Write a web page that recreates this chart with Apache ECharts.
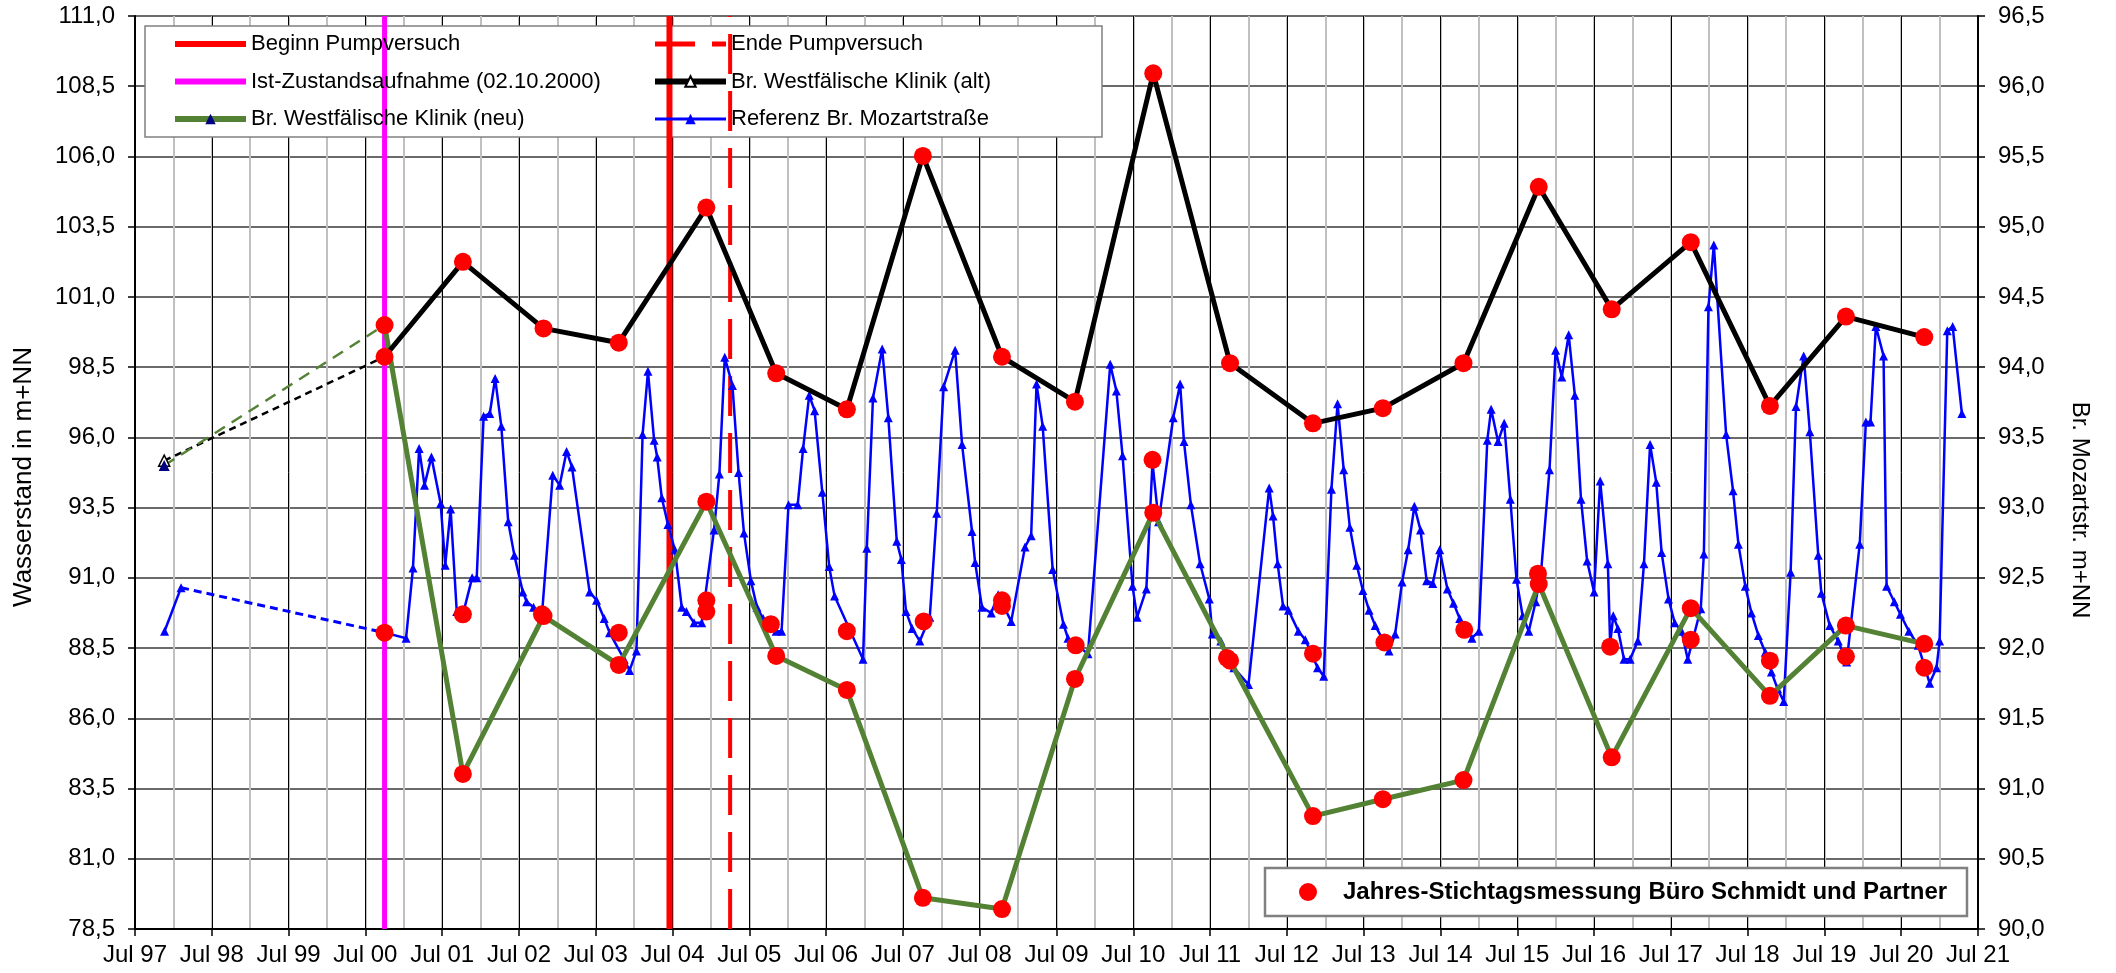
<!DOCTYPE html>
<html>
<head>
<meta charset="utf-8">
<title>Wasserstand Br. Westfälische Klinik / Br. Mozartstraße</title>
<script src="https://cdn.jsdelivr.net/npm/echarts@6/dist/echarts.min.js"></script>
<style>
    html, body { margin: 0; padding: 0; background: #fff; }
    #chart { width: 2116px; height: 973px; }
</style>
</head>
<body>
<div id="chart"></div>
<script>
// Zeit als Dezimaljahr (Jul 97 = 1997.5)
var xStart = 1997.5, xEnd = 2021.5;
var leftMin = 78.5, leftMax = 111.0, leftStep = 2.5;
var rightMin = 90.0, rightMax = 96.5, rightStep = 0.5;

// Ereignisse
var istZustand = 2000.75;   // 02.10.2000
var beginnPump = 2004.46;
var endePump = 2005.25;

// Brunnen Westfälische Klinik, Stichtage
var startT = 1997.88;
var altStart = 95.17;
var neuStart = 95.0;
var stichtagT = [2000.75, 2001.77, 2002.82, 2003.80, 2004.94, 2005.85, 2006.77, 2007.76, 2008.79, 2009.74,
                 2010.76, 2011.76, 2012.84, 2013.75, 2014.80, 2015.78, 2016.73, 2017.76, 2018.79, 2019.78, 2020.80];
var altV = [98.87, 102.25, 99.88, 99.37, 104.18, 98.28, 97.00, 106.02, 98.87, 97.27,
            108.96, 98.64, 96.50, 97.04, 98.64, 104.92, 100.56, 102.95, 97.12, 100.30, 99.57];
var neuV = [100.00, 84.02, 89.64, 87.90, 93.71, 88.22, 87.01, 79.61, 79.21, 87.40,
            93.32, 88.05, 82.52, 83.12, 83.80, 90.78, 84.61, 89.92, 86.80, 89.30, 88.65];

// Referenz Br. Mozartstrasse (rechte Achse)
var mozartPreT = [1997.885, 1998.10];
var mozartPreV = [92.12, 92.43];
var mozartT = [
    2000.75,
    2001.03, 2001.12, 2001.20, 2001.27, 2001.36, 2001.48, 2001.54, 2001.61, 2001.69, 2001.77, 2001.89, 2001.95,
    2002.04, 2002.12, 2002.19, 2002.27, 2002.36, 2002.44, 2002.55, 2002.60, 2002.69, 2002.80, 2002.94,
    2003.03, 2003.12, 2003.19, 2003.42, 2003.51, 2003.61, 2003.68, 2003.87, 2003.94,
    2004.03, 2004.11, 2004.18, 2004.26, 2004.30, 2004.36, 2004.44, 2004.53, 2004.62, 2004.68, 2004.78, 2004.88,
    2005.04, 2005.11, 2005.18, 2005.28, 2005.36, 2005.43, 2005.52, 2005.60, 2005.68, 2005.85, 2005.92,
    2006.01, 2006.13, 2006.20, 2006.28, 2006.35, 2006.45, 2006.54, 2006.61, 2006.98,
    2007.03, 2007.11, 2007.23, 2007.31, 2007.42, 2007.48, 2007.54, 2007.62, 2007.72, 2007.85, 2007.94,
    2008.03, 2008.18, 2008.27, 2008.40, 2008.44, 2008.53, 2008.65, 2008.74, 2008.91,
    2009.09, 2009.17, 2009.24, 2009.32, 2009.45, 2009.59, 2009.65, 2009.91,
    2010.20, 2010.28, 2010.36, 2010.49, 2010.55, 2010.67, 2010.75, 2010.83,
    2011.02, 2011.11, 2011.16, 2011.25, 2011.37, 2011.49, 2011.53, 2011.64, 2011.81,
    2012.00, 2012.27, 2012.32, 2012.38, 2012.45, 2012.52, 2012.65, 2012.74, 2012.90, 2012.98,
    2013.08, 2013.16, 2013.24, 2013.32, 2013.41, 2013.49, 2013.57, 2013.65, 2013.83, 2013.91,
    2014.00, 2014.08, 2014.16, 2014.24, 2014.32, 2014.40, 2014.49, 2014.59, 2014.67, 2014.75, 2014.91,
    2015.00, 2015.11, 2015.16, 2015.25, 2015.33, 2015.41, 2015.49, 2015.57, 2015.65, 2015.74, 2015.81, 2015.92,
    2016.00, 2016.08, 2016.17, 2016.25, 2016.33, 2016.41, 2016.50, 2016.58, 2016.68, 2016.71, 2016.75, 2016.81, 2016.89, 2016.97,
    2017.07, 2017.15, 2017.23, 2017.31, 2017.38, 2017.47, 2017.55, 2017.64, 2017.72, 2017.89, 2017.93, 2017.99,
    2018.06, 2018.22, 2018.31, 2018.38, 2018.47, 2018.55, 2018.64, 2018.73, 2018.81, 2018.89, 2018.97,
    2019.06, 2019.13, 2019.23, 2019.31, 2019.42, 2019.46, 2019.57, 2019.68, 2019.79, 2019.96,
    2020.04, 2020.10, 2020.17, 2020.27, 2020.31, 2020.41, 2020.49, 2020.60, 2020.72, 2020.87, 2020.96,
    2021.00, 2021.10, 2021.17, 2021.29
];
var mozartV = [
    92.11,
    92.07, 92.57, 93.42, 93.16, 93.36, 93.03, 92.59, 92.99, 92.26, 92.24, 92.50, 92.50,
    93.65, 93.67, 93.92, 93.58, 92.90, 92.66, 92.40, 92.33, 92.29, 92.24, 93.23,
    93.16, 93.40, 93.29, 92.40, 92.34, 92.21, 92.11, 91.92, 91.84,
    91.98, 93.52, 93.97, 93.48, 93.36, 93.07, 92.88, 92.70, 92.29, 92.26, 92.18, 92.18,
    92.84, 93.24, 94.07, 93.87, 93.25, 92.82, 92.48, 92.29, 92.21, 92.12, 92.12,
    93.02, 93.02, 93.42, 93.80, 93.69, 93.11, 92.58, 92.37, 91.92,
    92.71, 93.78, 94.13, 93.64, 92.76, 92.63, 92.26, 92.14, 92.05, 92.22, 92.96,
    93.86, 94.12, 93.45, 92.83, 92.61, 92.29, 92.25, 92.38, 92.19,
    92.72, 92.80, 93.88, 93.58, 92.56, 92.17, 92.07, 91.96,
    94.02, 93.83, 93.37, 92.44, 92.22, 92.42, 93.32, 92.90,
    93.64, 93.88, 93.47, 93.02, 92.60, 92.35, 92.10, 92.05, 91.86,
    91.74, 93.14, 92.94, 92.60, 92.30, 92.27, 92.12, 92.06, 91.86, 91.80,
    93.13, 93.74, 93.27, 92.86, 92.59, 92.41, 92.27, 92.16, 91.98, 92.10,
    92.47, 92.70, 93.01, 92.84, 92.48, 92.46, 92.70, 92.42, 92.32, 92.21, 92.07,
    92.12, 93.48, 93.70, 93.47, 93.60, 93.06, 92.49, 92.23, 92.12, 92.33, 92.54, 93.27,
    94.12, 93.93, 94.23, 93.80, 93.06, 92.62, 92.40, 93.19, 92.60, 92.03, 92.23, 92.14, 91.92, 91.92,
    92.05, 92.60, 93.45, 93.18, 92.68, 92.35, 92.18, 92.12, 91.92, 92.28, 92.67, 94.43,
    94.87, 93.52, 93.12, 92.74, 92.44, 92.25, 92.09, 91.97, 91.83, 91.71, 91.62,
    92.54, 93.72, 94.08, 93.54, 92.66, 92.39, 92.16, 92.05, 91.90, 92.74,
    93.61, 93.61, 94.29, 94.08, 92.44, 92.33, 92.24, 92.12, 92.02, 91.75, 91.86,
    92.05, 94.26, 94.29, 93.67
];

// Jahres-Stichtagsmessung an der Mozartstrasse (rechte Achse)
var mozartStichT = [2000.75, 2001.77, 2002.80, 2003.80, 2004.94, 2004.94, 2005.78, 2006.77, 2007.77, 2008.79, 2008.79, 2009.75,
                    2010.75, 2011.72, 2012.84, 2013.77, 2014.81, 2015.77, 2016.71, 2017.76, 2018.79, 2019.78, 2020.80];
var mozartStichV = [92.11, 92.24, 92.24, 92.11, 92.34, 92.26, 92.17, 92.12, 92.19, 92.34, 92.30, 92.02,
                    93.34, 91.93, 91.96, 92.04, 92.13, 92.53, 92.01, 92.06, 91.91, 91.94, 91.86];

var FONT = 'Liberation Sans, Arial, sans-serif';
var NAME_BEGINN = 'Beginn Pumpversuch';
var NAME_ENDE = 'Ende Pumpversuch';
var NAME_IST = 'Ist-Zustandsaufnahme (02.10.2000)';
var NAME_ALT = 'Br. Westfälische Klinik (alt)';
var NAME_NEU = 'Br. Westfälische Klinik (neu)';
var NAME_MOZ = 'Referenz Br. Mozartstraße';
var NAME_STICH = 'Jahres-Stichtagsmessung Büro Schmidt und Partner';

function pairs(t, v){
    var out = [];
    for(var i = 0 ; i < t.length ; i ++){
        out.push([t[i], v[i]]);
    }
    return out;
}

function deNum(v){
    return v.toFixed(1).replace('.', ',');
}

function vLine(name, t, style){
    return {
        name: name,
        type: 'line',
        xAxisIndex: 1,
        yAxisIndex: 0,
        symbol: 'none',
        z: 3,
        lineStyle: style,
        itemStyle: {color: style.color},
        data: [[t, leftMin], [t, leftMax]]
    };
}

function buildChart(){
    var oDom = document.getElementById('chart');
    var chart = echarts.init(oDom, null, {renderer: 'canvas'});

    var legendText = {fontSize: 22, color: '#000', fontFamily: FONT, lineHeight: 26};
    var noSymbol = {opacity: 0};

    var option = {
        animation: false,
        backgroundColor: '#fff',
        textStyle: {fontFamily: FONT},
        grid: {left: 135, right: 138, top: 16, bottom: 44},
        legend: [
            {
                data: [
                    {name: NAME_BEGINN, lineStyle: {width: 6}, itemStyle: noSymbol},
                    {name: NAME_IST, lineStyle: {width: 6}, itemStyle: noSymbol},
                    {name: NAME_NEU, lineStyle: {width: 6}}
                ],
                orient: 'vertical',
                left: 167, top: 26,
                itemWidth: 71, itemHeight: 13, itemGap: 11.5,
                selectedMode: false,
                textStyle: legendText
            },
            {
                data: [
                    {name: NAME_ENDE, lineStyle: {width: 5}, itemStyle: noSymbol},
                    {name: NAME_ALT, lineStyle: {width: 6}},
                    {name: NAME_MOZ, lineStyle: {width: 3}}
                ],
                orient: 'vertical',
                left: 647, top: 26,
                itemWidth: 71, itemHeight: 13, itemGap: 11.5,
                selectedMode: false,
                textStyle: legendText
            },
            {
                data: [NAME_STICH],
                left: 1294, top: 873,
                itemWidth: 60, itemHeight: 18,
                selectedMode: false,
                textStyle: {fontSize: 24, fontWeight: 'bold', color: '#000', fontFamily: FONT, lineHeight: 28}
            }
        ],
        graphic: [
            {type: 'rect', z: 1, shape: {x: 145, y: 26, width: 957, height: 111},
             style: {fill: '#fff', stroke: '#808080', lineWidth: 1.5}},
            {type: 'rect', z: 1, shape: {x: 1265, y: 868, width: 702, height: 48},
             style: {fill: '#fff', stroke: '#808080', lineWidth: 2.5}},
            {type: 'text', x: 24, y: 477, rotation: Math.PI / 2, z: 5,
             style: {text: 'Wasserstand in m+NN', fontSize: 26, fontFamily: FONT, fill: '#000',
                     align: 'center', verticalAlign: 'middle'}},
            {type: 'text', x: 2080, y: 510, rotation: -Math.PI / 2, z: 5,
             style: {text: 'Br. Mozartstr. m+NN', fontSize: 24, fontFamily: FONT, fill: '#000',
                     align: 'center', verticalAlign: 'middle'}}
        ],
        xAxis: [
            {
                // helle Hilfslinien im Halbjahrestakt
                type: 'value', min: xStart, max: xEnd, interval: 0.5,
                position: 'bottom',
                axisLine: {show: false}, axisTick: {show: false}, axisLabel: {show: false},
                splitLine: {show: true, lineStyle: {color: '#c0c0c0', width: 2}}
            },
            {
                type: 'value', min: xStart, max: xEnd, interval: 1,
                position: 'bottom',
                axisLine: {show: true, lineStyle: {color: '#000', width: 2}},
                axisTick: {show: true, length: 7, lineStyle: {color: '#000', width: 1.5}},
                axisLabel: {
                    fontSize: 24, color: '#000', fontFamily: FONT, margin: 14,
                    formatter: function(v){
                        var y = Math.floor(v + 1e-6);
                        return 'Jul ' + String(y % 100).padStart(2, '0');
                    }
                },
                splitLine: {show: true, lineStyle: {color: '#000', width: 1}}
            }
        ],
        yAxis: [
            {
                type: 'value', min: leftMin, max: leftMax, interval: leftStep,
                position: 'left',
                axisLine: {show: true, lineStyle: {color: '#000', width: 2}},
                axisTick: {show: true, length: 7, lineStyle: {color: '#000', width: 1.5}},
                axisLabel: {fontSize: 24, color: '#000', fontFamily: FONT, margin: 20, formatter: deNum},
                splitLine: {show: true, lineStyle: {color: '#6a6a6a', width: 2}}
            },
            {
                type: 'value', min: rightMin, max: rightMax, interval: rightStep,
                position: 'right',
                axisLine: {show: true, lineStyle: {color: '#000', width: 2}},
                axisTick: {show: true, length: 7, lineStyle: {color: '#000', width: 1.5}},
                axisLabel: {fontSize: 24, color: '#000', fontFamily: FONT, margin: 20, formatter: deNum},
                splitLine: {show: false}
            }
        ],
        series: [
            vLine(NAME_IST, istZustand, {color: '#ff00ff', width: 5}),
            vLine(NAME_BEGINN, beginnPump, {color: '#ff0000', width: 6}),
            vLine(NAME_ENDE, endePump, {color: '#ff0000', width: 4, type: [40, 17]}),
            {
                name: 'alt-Anbindung', type: 'line', xAxisIndex: 1, yAxisIndex: 0, z: 4,
                symbol: 'triangle', symbolSize: 11,
                itemStyle: {color: '#fff', borderColor: '#000', borderWidth: 1.5},
                lineStyle: {color: '#000', width: 2.5, type: [7, 5]},
                data: [{value: [startT, altStart]}, {value: [stichtagT[0], altV[0]], symbol: 'none'}]
            },
            {
                name: 'neu-Anbindung', type: 'line', xAxisIndex: 1, yAxisIndex: 0, z: 4,
                symbol: 'triangle', symbolSize: 11,
                itemStyle: {color: '#000080'},
                lineStyle: {color: '#548235', width: 2.5, type: [12, 8]},
                data: [{value: [startT, neuStart]}, {value: [stichtagT[0], neuV[0]], symbol: 'none'}]
            },
            {
                name: 'mozart-Anbindung', type: 'line', xAxisIndex: 1, yAxisIndex: 1, z: 4,
                symbol: 'none',
                lineStyle: {color: '#0000ff', width: 3, type: [8, 5]},
                data: [[mozartPreT[mozartPreT.length - 1], mozartPreV[mozartPreV.length - 1]], [mozartT[0], mozartV[0]]]
            },
            {
                name: 'mozart-Anfang', type: 'line', xAxisIndex: 1, yAxisIndex: 1, z: 5,
                symbol: 'triangle', symbolSize: 9,
                itemStyle: {color: '#0000ff'},
                lineStyle: {color: '#0000ff', width: 2.5},
                data: pairs(mozartPreT, mozartPreV)
            },
            {
                name: NAME_MOZ, type: 'line', xAxisIndex: 1, yAxisIndex: 1, z: 5,
                symbol: 'triangle', symbolSize: 9,
                itemStyle: {color: '#0000ff'},
                lineStyle: {color: '#0000ff', width: 2.5},
                data: pairs(mozartT, mozartV)
            },
            {
                name: NAME_NEU, type: 'line', xAxisIndex: 1, yAxisIndex: 0, z: 6,
                symbol: 'triangle', symbolSize: 11,
                itemStyle: {color: '#000080'},
                lineStyle: {color: '#548235', width: 5},
                data: pairs(stichtagT, neuV)
            },
            {
                name: NAME_ALT, type: 'line', xAxisIndex: 1, yAxisIndex: 0, z: 6,
                symbol: 'triangle', symbolSize: 11,
                itemStyle: {color: '#fff', borderColor: '#000', borderWidth: 1.5},
                lineStyle: {color: '#000', width: 5},
                data: pairs(stichtagT, altV)
            },
            {
                name: NAME_STICH, type: 'scatter', xAxisIndex: 1, yAxisIndex: 0, z: 8,
                symbol: 'circle', symbolSize: 18,
                itemStyle: {color: '#ff0000', opacity: 1},
                data: pairs(stichtagT, altV).concat(pairs(stichtagT, neuV))
            },
            {
                name: NAME_STICH, type: 'scatter', xAxisIndex: 1, yAxisIndex: 1, z: 8,
                symbol: 'circle', symbolSize: 18,
                itemStyle: {color: '#ff0000', opacity: 1},
                data: pairs(mozartStichT, mozartStichV)
            }
        ]
    };
    chart.setOption(option);
}

function init(){
    buildChart();
}

init();
</script>
</body>
</html>
